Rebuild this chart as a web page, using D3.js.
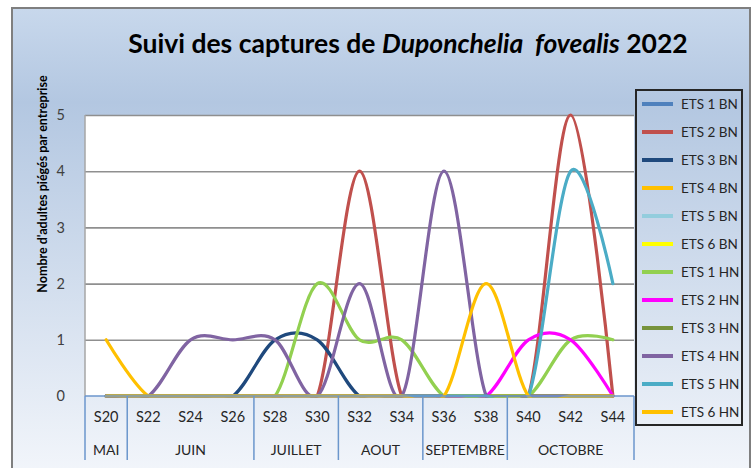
<!DOCTYPE html>
<html>
<head>
<meta charset="utf-8">
<script src="https://cdn.jsdelivr.net/npm/d3@7"></script>
<style>
  body { margin: 0; background: #fff; }
  svg { display: block; font-family: Lato, 'Open Sans', sans-serif; }
</style>
</head>
<body>
<svg id="chart" width="753" height="468"></svg>
<script>
// categories
const weeks = ['S20', 'S22', 'S24', 'S26', 'S28', 'S30', 'S32', 'S34', 'S36', 'S38', 'S40', 'S42', 'S44'];
const monthOfWeek = ['MAI', 'JUIN', 'JUIN', 'JUIN', 'JUILLET', 'JUILLET', 'AOUT', 'AOUT',
  'SEPTEMBRE', 'SEPTEMBRE', 'OCTOBRE', 'OCTOBRE', 'OCTOBRE'];
const yTicks = [0, 1, 2, 3, 4, 5];

// series
const seriesNames = ['ETS 1 BN', 'ETS 2 BN', 'ETS 3 BN', 'ETS 4 BN', 'ETS 5 BN', 'ETS 6 BN',
  'ETS 1 HN', 'ETS 2 HN', 'ETS 3 HN', 'ETS 4 HN', 'ETS 5 HN', 'ETS 6 HN'];
const seriesColors = ['#4F81BD', '#C0504D', '#1F497D', '#FFC000', '#93CDDD', '#FFFF00',
  '#92D050', '#FF00FF', '#77933C', '#8064A2', '#4BACC6', '#FFC000'];

const ets1bn = [0, 0, 0, 0, 0, 0, 0, 0, 0, 0, 0, 0, 0];
const ets2bn = [0, 0, 0, 0, 0, 0, 4, 0, 0, 0, 0, 5, 0];
const ets3bn = [0, 0, 0, 0, 1, 1, 0, 0, 0, 0, 0, 0, 0];
const ets4bn = [1, 0, 0, 0, 0, 0, 0, 0, 0, 0, 0, 0, 0];
const ets5bn = [0, 0, 0, 0, 0, 0, 0, 0, 0, 0, 0, 0, 0];
const ets6bn = [0, 0, 0, 0, 0, 0, 0, 0, 0, 0, 0, 0, 0];
const ets1hn = [0, 0, 0, 0, 0, 2, 1, 1, 0, 0, 0, 1, 1];
const ets2hn = [0, 0, 0, 0, 0, 0, 0, 0, 0, 0, 1, 1, 0];
const ets3hn = [0, 0, 0, 0, 0, 0, 0, 0, 0, 0, 0, 0, 0];
const ets4hn = [0, 0, 1, 1, 1, 0, 2, 0, 4, 0, 0, 0, 0];
const ets5hn = [0, 0, 0, 0, 0, 0, 0, 0, 0, 0, 0, 4, 2];
const ets6hn = [0, 0, 0, 0, 0, 0, 0, 0, 0, 2, 0, 0, 0];

const seriesValues = [ets1bn, ets2bn, ets3bn, ets4bn, ets5bn, ets6bn,
  ets1hn, ets2hn, ets3hn, ets4hn, ets5hn, ets6hn];

let svg = d3.select('#chart');

let plotL = 85, plotR = 634, plotT = 115, plotB = 396;

// background gradient
let defs = svg.append('defs');
let grad = defs.append('linearGradient')
  .attr('id', 'bg')
  .attr('x1', 0).attr('y1', 0).attr('x2', 0).attr('y2', 1);
grad.append('stop').attr('offset', '0%').attr('stop-color', '#c8d8ec');
grad.append('stop').attr('offset', '20%').attr('stop-color', '#b3c7e1');
grad.append('stop').attr('offset', '100%').attr('stop-color', '#f3f6fb');

defs.append('clipPath').attr('id', 'plotClip')
  .append('rect')
  .attr('x', plotL).attr('y', plotT - 6)
  .attr('width', plotR - plotL).attr('height', plotB - plotT + 7.5);

svg.append('rect')
  .attr('x', 12).attr('y', 8)
  .attr('width', 738).attr('height', 470)
  .attr('fill', 'url(#bg)')
  .attr('stroke', '#7f7f7f')
  .attr('stroke-width', 2);

// plot area
svg.append('rect')
  .attr('x', plotL).attr('y', plotT)
  .attr('width', plotR - plotL).attr('height', plotB - plotT)
  .attr('fill', '#fff');

// scales
let x = d3.scaleBand().domain(weeks).range([plotL, plotR]);
let xc = (w) => x(w) + x.bandwidth() / 2;
let y = d3.scaleLinear().domain([0, 5]).range([plotB, plotT]);

// gridlines
svg.append('g')
  .attr('transform', `translate(${plotL},0)`)
  .call(d3.axisLeft(y).tickValues(yTicks.filter(d => d > 0)).tickSize(-(plotR - plotL)).tickFormat(''))
  .call(g => g.select('.domain').remove())
  .selectAll('line')
  .attr('stroke', '#8f8f8f')
  .attr('stroke-width', 1.6);

// y axis labels
svg.append('g')
  .attr('transform', `translate(${plotL},0)`)
  .call(d3.axisLeft(y).tickValues(yTicks).tickSize(0).tickPadding(20).tickFormat(d3.format('d')))
  .call(g => g.select('.domain').remove())
  .selectAll('text')
  .attr('font-family', 'Lato, sans-serif')
  .attr('font-size', 14.5)
  .attr('fill', '#404040');

svg.append('line')
  .attr('x1', plotL).attr('x2', plotL)
  .attr('y1', plotT).attr('y2', plotB)
  .attr('stroke', '#a6a6a6').attr('stroke-width', 1.5);

// lines
let line = d3.line()
  .x((d, i) => xc(weeks[i]))
  .y(d => y(d))
  .curve(d3.curveCatmullRom.alpha(0));

svg.append('g')
  .attr('clip-path', 'url(#plotClip)')
  .selectAll('path')
  .data(seriesValues)
  .join('path')
  .attr('fill', 'none')
  .attr('stroke', (d, i) => seriesColors[i])
  .attr('stroke-width', 3.2)
  .attr('stroke-linecap', 'round')
  .attr('d', line);

// x axis
let axisColor = '#6b96cc';
svg.append('line')
  .attr('x1', plotL).attr('x2', plotR)
  .attr('y1', plotB).attr('y2', plotB)
  .attr('stroke', axisColor).attr('stroke-width', 1.5);

svg.append('g')
  .attr('transform', `translate(0,${plotB})`)
  .call(d3.axisBottom(x).tickSize(0).tickPadding(16))
  .call(g => g.select('.domain').remove())
  .selectAll('text')
  .attr('font-family', 'Lato, sans-serif')
  .attr('font-size', 14.5)
  .attr('fill', '#262626');

// month groups
let months = [];
weeks.forEach((w, i) => {
  let m = monthOfWeek[i];
  if (months.length && months[months.length - 1].name === m) {
    months[months.length - 1].end = w;
  } else {
    months.push({ name: m, start: w, end: w });
  }
});

let sepX = [plotL].concat(months.map(m => x(m.end) + x.bandwidth()));
svg.append('g')
  .selectAll('line')
  .data(sepX)
  .join('line')
  .attr('x1', d => d).attr('x2', d => d)
  .attr('y1', plotB).attr('y2', 460)
  .attr('stroke', axisColor)
  .attr('stroke-width', 1.5);

svg.append('g')
  .selectAll('text')
  .data(months)
  .join('text')
  .attr('x', d => (x(d.start) + x(d.end) + x.bandwidth()) / 2)
  .attr('y', 455)
  .attr('text-anchor', 'middle')
  .attr('font-size', 14)
  .attr('fill', '#262626')
  .text(d => d.name);

// title
let title = svg.append('text')
  .attr('x', 408)
  .attr('y', 53)
  .attr('text-anchor', 'middle')
  .attr('font-size', 26.5)
  .attr('font-weight', 'bold')
  .attr('fill', '#000')
  .style('white-space', 'pre');
title.append('tspan').text('Suivi des captures de ');
title.append('tspan').attr('font-style', 'italic').text('Duponchelia  fovealis');
title.append('tspan').text(' 2022');

// y axis title
svg.append('text')
  .attr('transform', 'translate(47,184) rotate(-90)')
  .attr('text-anchor', 'middle')
  .attr('font-size', 12.5)
  .attr('font-weight', 'bold')
  .attr('fill', '#000')
  .text('Nombre d\'adultes piégés par entreprise');

// legend
let legend = svg.append('g');
legend.append('rect')
  .attr('x', 636).attr('y', 90)
  .attr('width', 106).attr('height', 335)
  .attr('fill', 'none')
  .attr('stroke', '#262626')
  .attr('stroke-width', 2);

let items = legend.selectAll('g.item')
  .data(seriesNames)
  .join('g')
  .attr('class', 'item')
  .attr('transform', (d, i) => `translate(0,${104 + i * 28})`);

items.append('line')
  .attr('x1', 642).attr('x2', 673)
  .attr('stroke', (d, i) => seriesColors[i])
  .attr('stroke-width', 4);

items.append('text')
  .attr('x', 681)
  .attr('dy', '0.35em')
  .attr('font-size', 13.5)
  .attr('fill', '#262626')
  .text(d => d);
</script>
</body>
</html>
